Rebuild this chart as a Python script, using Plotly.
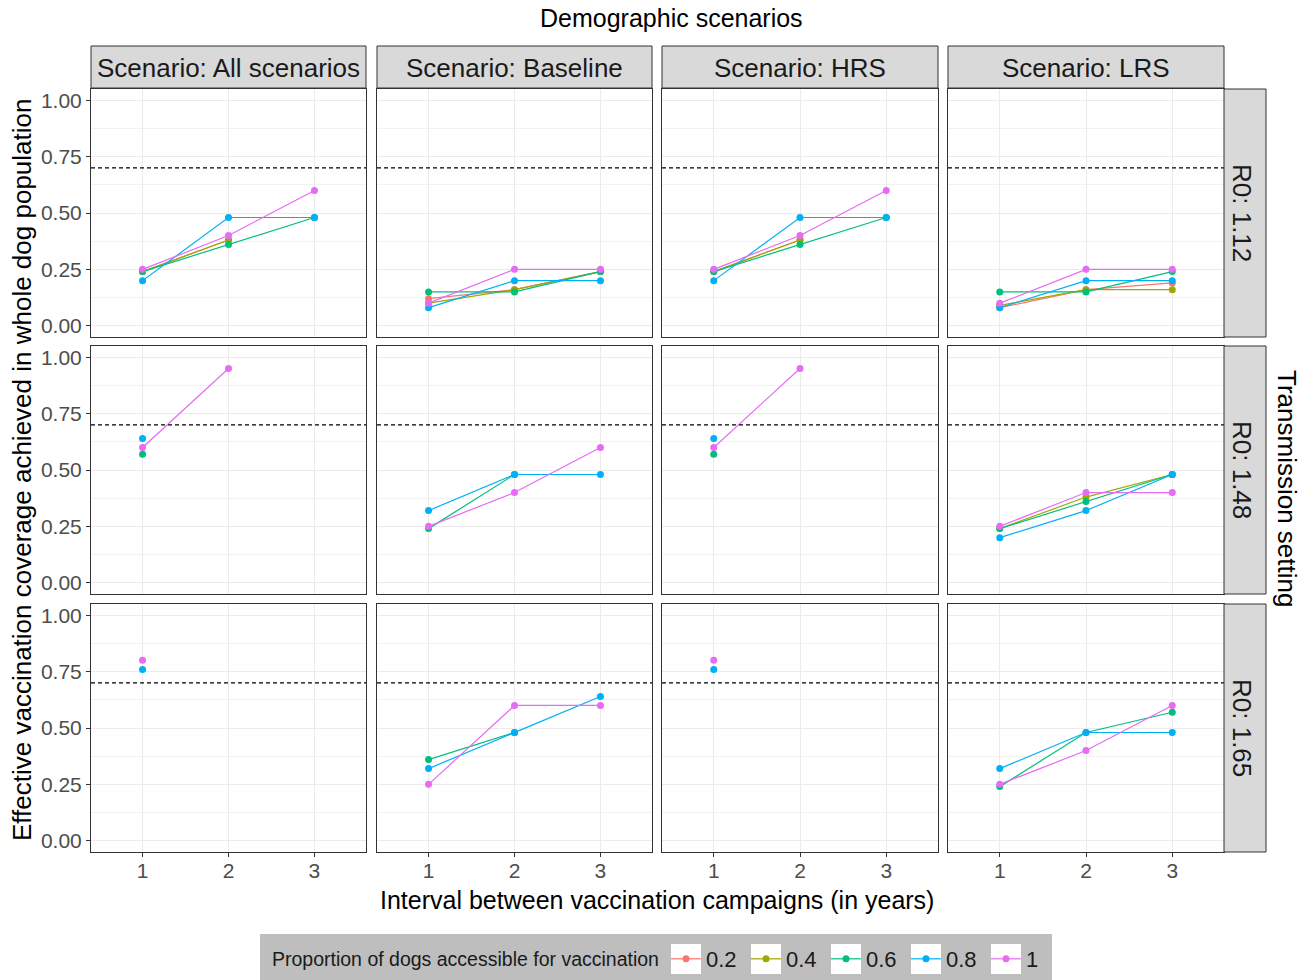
import plotly.graph_objects as go

W, H = 1312, 980
FONT = "Liberation Sans, Arial, sans-serif"

# ---- data -----------------------------------------------------------------
SCENARIOS = ["All scenarios", "Baseline", "HRS", "LRS"]
R0_VALUES = ["1.12", "1.48", "1.65"]
INTERVALS = [1, 2, 3]
PROPORTIONS = ["0.2", "0.4", "0.6", "0.8", "1"]
COLORS = ["#F8766D", "#A3A500", "#00BF7D", "#00B0F6", "#E76BF3"]
THRESHOLD = 0.7
Y_TICKS = [0.0, 0.25, 0.5, 0.75, 1.0]

# effective coverage for intervals 1, 2, 3 years (None = no value)
ALL_R112 = {"0.2": [0.24, 0.38, None], "0.4": [0.24, 0.38, None],
            "0.6": [0.24, 0.36, 0.48], "0.8": [0.20, 0.48, 0.48],
            "1": [0.25, 0.40, 0.60]}
BASE_R112 = {"0.2": [0.12, 0.16, 0.24], "0.4": [0.10, 0.16, 0.24],
             "0.6": [0.15, 0.15, 0.24], "0.8": [0.08, 0.20, 0.20],
             "1": [0.10, 0.25, 0.25]}
HRS_R112 = {"0.2": [0.24, 0.38, None], "0.4": [0.24, 0.38, None],
            "0.6": [0.24, 0.36, 0.48], "0.8": [0.20, 0.48, 0.48],
            "1": [0.25, 0.40, 0.60]}
LRS_R112 = {"0.2": [0.08, 0.16, 0.19], "0.4": [0.09, 0.16, 0.16],
            "0.6": [0.15, 0.15, 0.24], "0.8": [0.08, 0.20, 0.20],
            "1": [0.10, 0.25, 0.25]}

ALL_R148 = {"0.6": [0.57, None, None], "0.8": [0.64, None, None],
            "1": [0.60, 0.95, None]}
BASE_R148 = {"0.6": [0.24, 0.48, None], "0.8": [0.32, 0.48, 0.48],
             "1": [0.25, 0.40, 0.60]}
HRS_R148 = {"0.6": [0.57, None, None], "0.8": [0.64, None, None],
            "1": [0.60, 0.95, None]}
LRS_R148 = {"0.4": [0.24, 0.38, 0.48], "0.6": [0.24, 0.36, 0.48],
            "0.8": [0.20, 0.32, 0.48], "1": [0.25, 0.40, 0.40]}

ALL_R165 = {"0.8": [0.76, None, None], "1": [0.80, None, None]}
BASE_R165 = {"0.6": [0.36, 0.48, None], "0.8": [0.32, 0.48, 0.64],
             "1": [0.25, 0.60, 0.60]}
HRS_R165 = {"0.8": [0.76, None, None], "1": [0.80, None, None]}
LRS_R165 = {"0.6": [0.24, 0.48, 0.57], "0.8": [0.32, 0.48, 0.48],
            "1": [0.25, 0.40, 0.60]}

PANELS = [
    [ALL_R112, BASE_R112, HRS_R112, LRS_R112],
    [ALL_R148, BASE_R148, HRS_R148, LRS_R148],
    [ALL_R165, BASE_R165, HRS_R165, LRS_R165],
]

# ---- layout geometry (pixels) ----------------------------------------------
COL_X = [(91, 366), (377, 652), (662, 938), (948, 1224)]
ROW_Y = [(89, 337), (346, 594), (604, 852)]
STRIP_TOP = (46, 88)
STRIP_RIGHT = (1224, 1266)


def px(x):
    return x / W


def py(y):
    return 1 - y / H


def ax_name(prefix, k):
    return prefix if k == 1 else f"{prefix}{k}"


fig = go.Figure()
layout = {}
shapes = []
annotations = []

for r in range(3):
    for c in range(4):
        k = r * 4 + c + 1
        x0, x1 = COL_X[c]
        y0, y1 = ROW_Y[r]
        layout[ax_name("xaxis", k)] = dict(
            domain=[px(x0), px(x1)], anchor=ax_name("y", k),
            range=[0.4, 3.6], tickvals=INTERVALS,
            ticktext=[str(i) for i in INTERVALS],
            showgrid=True, gridcolor="#EBEBEB", gridwidth=1,
            showline=True, mirror=True, linecolor="#333333", linewidth=1,
            zeroline=False, ticks="outside" if r == 2 else "",
            ticklen=4, tickcolor="#333333", showticklabels=(r == 2),
            ticklabelstandoff=-4,
            tickfont=dict(family=FONT, size=21, color="#4D4D4D"),
            fixedrange=True,
        )
        layout[ax_name("yaxis", k)] = dict(
            domain=[py(y1), py(y0)], anchor=ax_name("x", k),
            range=[-0.05, 1.05], tickvals=Y_TICKS,
            ticktext=[f"{v:.2f}" for v in Y_TICKS],
            showgrid=True, gridcolor="#EBEBEB", gridwidth=1,
            minor=dict(tickvals=[0.125, 0.375, 0.625, 0.875], showgrid=True,
                       gridcolor="#F2F2F2", gridwidth=0.8, ticks=""),
            showline=True, mirror=True, linecolor="#333333", linewidth=1,
            zeroline=False, ticks="outside" if c == 0 else "",
            ticklen=4, tickcolor="#333333", showticklabels=(c == 0),
            tickfont=dict(family=FONT, size=21, color="#4D4D4D"),
            fixedrange=True,
        )
        # dashed reference threshold
        shapes.append(dict(
            type="line", xref=f"{ax_name('x', k)} domain", x0=0, x1=1,
            yref=ax_name("y", k), y0=THRESHOLD, y1=THRESHOLD,
            line=dict(color="#000000", width=1.3, dash="4px,3px"),
            layer="above",
        ))

# series, drawn proportion by proportion so higher proportions sit on top
for p, color in zip(PROPORTIONS, COLORS):
    shown = False
    for r in range(3):
        for c in range(4):
            k = r * 4 + c + 1
            ys = PANELS[r][c].get(p)
            if ys is None:
                continue
            fig.add_trace(go.Scatter(
                x=INTERVALS, y=ys, mode="lines+markers", name=p,
                line=dict(color=color, width=1.2),
                marker=dict(color=color, size=7),
                xaxis=ax_name("x", k), yaxis=ax_name("y", k),
                showlegend=not shown, hoverinfo="skip",
            ))
            shown = True

# facet strips
for c, name in enumerate(SCENARIOS):
    x0, x1 = COL_X[c]
    shapes.append(dict(type="rect", xref="paper", yref="paper",
                       x0=px(x0), x1=px(x1), y0=py(STRIP_TOP[1]), y1=py(STRIP_TOP[0]),
                       fillcolor="#D9D9D9", line=dict(color="#333333", width=1),
                       layer="above"))
    annotations.append(dict(text=f"Scenario: {name}", xref="paper", yref="paper",
                            x=px((x0 + x1) / 2), y=py(sum(STRIP_TOP) / 2 + 1),
                            showarrow=False, xanchor="center", yanchor="middle",
                            font=dict(family=FONT, size=26, color="#1A1A1A")))
for r, r0 in enumerate(R0_VALUES):
    y0, y1 = ROW_Y[r]
    shapes.append(dict(type="rect", xref="paper", yref="paper",
                       x0=px(STRIP_RIGHT[0]), x1=px(STRIP_RIGHT[1]), y0=py(y1), y1=py(y0),
                       fillcolor="#D9D9D9", line=dict(color="#333333", width=1),
                       layer="above"))
    annotations.append(dict(text=f"R0: {r0}", xref="paper", yref="paper",
                            x=px(sum(STRIP_RIGHT) / 2 - 3), y=py((y0 + y1) / 2),
                            showarrow=False, textangle=90,
                            xanchor="center", yanchor="middle",
                            font=dict(family=FONT, size=26, color="#1A1A1A")))

# titles
annotations += [
    dict(text="Demographic scenarios", xref="paper", yref="paper",
         x=px(671), y=py(18), showarrow=False, xanchor="center", yanchor="middle",
         font=dict(family=FONT, size=25, color="#000000")),
    dict(text="Interval between vaccination campaigns (in years)", xref="paper",
         yref="paper", x=px(657), y=py(900), showarrow=False,
         xanchor="center", yanchor="middle",
         font=dict(family=FONT, size=25, color="#000000")),
    dict(text="Effective vaccination coverage achieved in whole dog population",
         xref="paper", yref="paper", x=px(22), y=py(470), showarrow=False,
         textangle=-90, xanchor="center", yanchor="middle",
         font=dict(family=FONT, size=26, color="#000000")),
    dict(text="Transmission setting", xref="paper", yref="paper",
         x=px(1287), y=py(488), showarrow=False, textangle=90,
         xanchor="center", yanchor="middle",
         font=dict(family=FONT, size=26, color="#000000")),
    # legend heading, placed beside the legend entries
    dict(text="Proportion of dogs accessible for vaccination", xref="paper",
         yref="paper", x=px(270), y=py(959), showarrow=False,
         xanchor="left", yanchor="middle",
         font=dict(family=FONT, size=19.5, color="#1A1A1A")),
]

# legend backdrop and key boxes
LEGEND_BOX = (260, 934, 1052, 982)
KEY_CENTERS = [686, 766, 846, 926, 1006]
shapes.append(dict(type="rect", xref="paper", yref="paper",
                   x0=px(LEGEND_BOX[0]), x1=px(LEGEND_BOX[2]),
                   y0=py(LEGEND_BOX[3]), y1=py(LEGEND_BOX[1]),
                   fillcolor="#BEBEBE", line=dict(width=0), layer="above"))
for kc in KEY_CENTERS:
    shapes.append(dict(type="rect", xref="paper", yref="paper",
                       x0=px(kc - 15), x1=px(kc + 15), y0=py(974), y1=py(944),
                       fillcolor="#FFFFFF", line=dict(width=0), layer="above"))

layout.update(
    width=W, height=H,
    margin=dict(l=0, r=0, t=0, b=0),
    paper_bgcolor="#FFFFFF", plot_bgcolor="#FFFFFF",
    shapes=shapes, annotations=annotations,
    showlegend=True,
    legend=dict(
        orientation="h", x=px(666), xanchor="left", y=py(938), yanchor="top",
        bgcolor="rgba(0,0,0,0)", borderwidth=0,
        font=dict(family=FONT, size=22, color="#1A1A1A"),
        entrywidth=35, entrywidthmode="pixels", itemwidth=30,
    ),
)
fig.update_layout(**layout)
fig.write_html("out.html")
